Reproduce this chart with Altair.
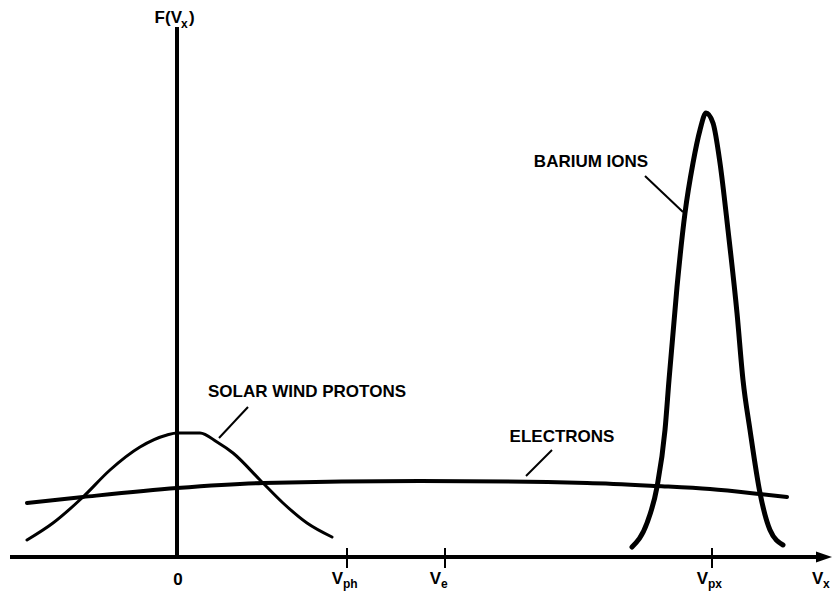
import altair as alt
import pandas as pd

# ---- data (velocity relative to origin, F height above the axis) ----
proton_v = [-150, -124, -94, -67, -37, -10, 0, 23, 40, 56, 83, 106, 130, 155]
proton_f = [17, 34, 60, 87, 110, 122, 124, 124, 115, 104, 77, 54, 34, 20]

electron_v = [-150, -94, 0, 86, 243, 410, 480, 533, 583, 610]
electron_f = [54, 60, 69, 74, 76, 74, 71, 68, 63, 60]

barium_v = [455, 470, 480, 488, 492, 500, 508, 516, 523, 529, 536, 543, 551, 560, 566, 573, 583, 593, 606]
barium_f = [10, 34, 70, 127, 177, 270, 344, 394, 427, 444, 434, 394, 327, 244, 177, 127, 64, 27, 12]

tick_pos = [170, 268, 535]
tick_main = ["V", "V", "V"]
tick_sub = ["ph", "e", "px"]

series_names = ["SOLAR WIND PROTONS", "ELECTRONS", "BARIUM IONS"]
label_x = [130, 385, 414]
label_y = [165, 120, 395]
leader_x1 = [71, 375, 468]
leader_y1 = [150, 107, 381]
leader_x2 = [42, 349, 506]
leader_y2 = [119, 81, 345]

FONT = "Liberation Sans"
XS = alt.Scale(domain=[-169, 655], nice=False, zero=False)
YS = alt.Scale(domain=[-35, 549], nice=False, zero=False)


def X(f="x"):
    return alt.X(f"{f}:Q", scale=XS, axis=None)


def Y(f="y"):
    return alt.Y(f"{f}:Q", scale=YS, axis=None)


def curve(v, f, w):
    df = pd.DataFrame({"x": v, "y": f})
    return alt.Chart(df).mark_line(
        color="black", strokeWidth=w, interpolate="monotone", strokeCap="round"
    ).encode(x=X(), y=Y())


protons = curve(proton_v, proton_f, 3)
electrons = curve(electron_v, electron_f, 4)
barium = curve(barium_v, barium_f, 5)

# axes
axes_df = pd.DataFrame({"x": [0, -167], "y": [0, 0], "x2": [0, 642], "y2": [530, 0]})
axes = alt.Chart(axes_df).mark_rule(color="black", strokeWidth=4).encode(
    x=X(), y=Y(), x2="x2:Q", y2="y2:Q"
)
arrow = alt.Chart(pd.DataFrame({"x": [647], "y": [0]})).mark_point(
    shape="M -1 -0.7 L 1 0 L -1 0.7 Z", size=256, filled=True, color="black", opacity=1
).encode(x=X(), y=Y())

# ticks
ticks_df = pd.DataFrame({"x": tick_pos, "y": [-11] * 3, "y2": [9] * 3})
ticks = alt.Chart(ticks_df).mark_rule(color="black", strokeWidth=2).encode(
    x=X(), y=Y(), y2="y2:Q"
)

tl_df = pd.DataFrame({"x": tick_pos, "main": tick_main, "sub": tick_sub,
                      "ym": [-22] * 3, "ys": [-27] * 3})
tick_v = alt.Chart(tl_df).mark_text(
    font=FONT, fontWeight="bold", fontSize=17, align="right", baseline="middle", dx=-4
).encode(x=X(), y=Y("ym"), text="main:N")
tick_s = alt.Chart(tl_df).mark_text(
    font=FONT, fontWeight="bold", fontSize=12, align="left", baseline="middle", dx=-4
).encode(x=X(), y=Y("ys"), text="sub:N")

zero_lbl = alt.Chart(pd.DataFrame({"x": [1], "y": [-23], "t": ["0"]})).mark_text(
    font=FONT, fontWeight="bold", fontSize=17, align="center", baseline="middle"
).encode(x=X(), y=Y(), text="t:N")

vx_main = alt.Chart(pd.DataFrame({"x": [635], "y": [-22], "t": ["V"]})).mark_text(
    font=FONT, fontWeight="bold", fontSize=17, align="left", baseline="middle"
).encode(x=X(), y=Y(), text="t:N")
vx_sub = alt.Chart(pd.DataFrame({"x": [646], "y": [-27], "t": ["x"]})).mark_text(
    font=FONT, fontWeight="bold", fontSize=12, align="left", baseline="middle"
).encode(x=X(), y=Y(), text="t:N")

fv_main = alt.Chart(pd.DataFrame({"x": [5], "y": [539], "t": ["F(V"]})).mark_text(
    font=FONT, fontWeight="bold", fontSize=17, align="right", baseline="middle"
).encode(x=X(), y=Y(), text="t:N")
fv_sub = alt.Chart(pd.DataFrame({"x": [4], "y": [533], "t": ["x"]})).mark_text(
    font=FONT, fontWeight="bold", fontSize=12, align="left", baseline="middle"
).encode(x=X(), y=Y(), text="t:N")
fv_close = alt.Chart(pd.DataFrame({"x": [12], "y": [539], "t": [")"]})).mark_text(
    font=FONT, fontWeight="bold", fontSize=17, align="left", baseline="middle"
).encode(x=X(), y=Y(), text="t:N")

# series labels with leader lines
lab_df = pd.DataFrame({"x": label_x, "y": label_y, "t": series_names})
labels = alt.Chart(lab_df).mark_text(
    font=FONT, fontWeight="bold", fontSize=17, align="center", baseline="middle"
).encode(x=X(), y=Y(), text="t:N")
lead_df = pd.DataFrame({"x": leader_x1, "y": leader_y1, "x2": leader_x2, "y2": leader_y2})
leaders = alt.Chart(lead_df).mark_rule(color="black", strokeWidth=2).encode(
    x=X(), y=Y(), x2="x2:Q", y2="y2:Q"
)

chart = alt.layer(
    axes, arrow, ticks, protons, electrons, barium, leaders, labels,
    tick_v, tick_s, zero_lbl, vx_main, vx_sub, fv_main, fv_sub, fv_close
).properties(
    width=824, height=584, padding=0, autosize=alt.AutoSizeParams(type="none"),
    background="white"
).configure_view(stroke=None)

chart.save("out.html", embed_options={"renderer": "svg", "actions": False})
